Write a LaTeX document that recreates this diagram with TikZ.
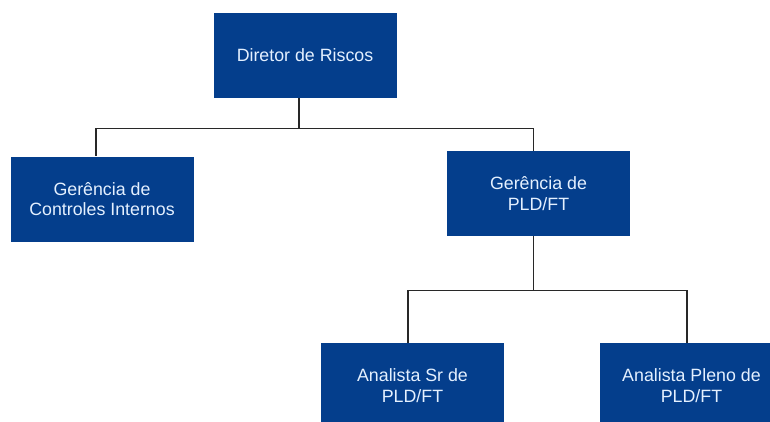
\documentclass[tikz,border=0pt]{standalone}
\usepackage{fontspec}
\setmainfont{Liberation Sans}
\definecolor{boxblue}{RGB}{4,62,140}
\definecolor{boxtext}{RGB}{228,240,255}
\definecolor{linegray}{RGB}{40,40,40}
\begin{document}
\begin{tikzpicture}[x=1pt,y=-1pt,
    cargo/.style={fill=boxblue,text=boxtext,inner sep=0pt,align=center,
      minimum width=183pt,minimum height=85pt,
      font=\fontsize{17.8}{20.5}\selectfont},
    conn/.style={draw=linegray,line width=1.2pt}]
  \useasboundingbox (0,0) rectangle (770,421);
  \clip (0,0) rectangle (770,421);
  \fill[white] (0,0) rectangle (770,421);
  \draw
    (305,55.5) node[cargo] (dir){Diretor de Riscos}
    (102,199) node[cargo] (gci){Gerência de\\Controles Internos}
    (538.5,193.5) node[cargo] (gpld){Gerência de\\PLD/FT}
    (412.5,385.5) node[cargo] (asr){Analista Sr de\\PLD/FT}
    (691.5,385.5) node[cargo] (apl){Analista Pleno de\\PLD/FT};
  \begin{scope}[conn]
    \draw ([xshift=-6]dir.south) -- ++(0,30) coordinate (bus1);
    \draw (bus1) -| ([xshift=-6]gci.north);
    \draw (bus1) -| ([xshift=-5]gpld.north);
    \draw ([xshift=-5]gpld.south) -- ++(0,54) coordinate (bus2);
    \draw (bus2) -| ([xshift=-4.5]asr.north);
    \draw (bus2) -| ([xshift=-4.5]apl.north);
  \end{scope}
\end{tikzpicture}
\end{document}
